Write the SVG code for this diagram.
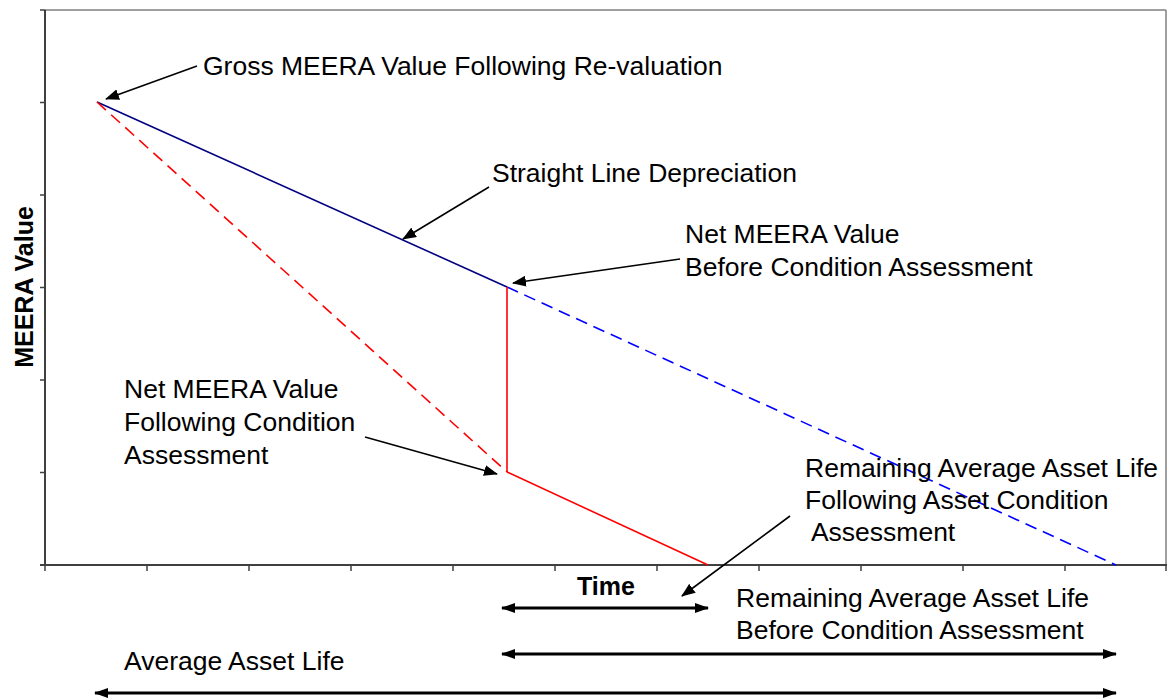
<svg xmlns="http://www.w3.org/2000/svg" width="1173" height="699" viewBox="0 0 1173 699">
  <style>
    text { font-family: "Liberation Sans", Arial, sans-serif; font-size: 26.5px; fill: #000; }
    .bold { font-weight: bold; font-size: 25px; }
    .tick { stroke: #404040; stroke-width: 1.5; }
    .callout { stroke: #000; stroke-width: 1.6; fill: none; marker-end: url(#ah); }
    .span { stroke: #000; stroke-width: 2.8; fill: none; marker-start: url(#ah2); marker-end: url(#ah2); }
  </style>
  <defs>
    <marker id="ah" viewBox="0 0 14 11" markerWidth="14" markerHeight="11" refX="13" refY="5.5" orient="auto" markerUnits="userSpaceOnUse">
      <path d="M0,0 L14,5.5 L0,11 z" fill="#000"/>
    </marker>
    <marker id="ah2" viewBox="0 0 14 10" markerWidth="14" markerHeight="10" refX="13" refY="5" orient="auto-start-reverse" markerUnits="userSpaceOnUse">
      <path d="M0,0 L14,5 L0,10 z" fill="#000"/>
    </marker>
  </defs>
  <rect width="1173" height="699" fill="#fff"/>

  <g id="plot-frame">
    <line x1="45" y1="10" x2="1166" y2="10" stroke="#808080" stroke-width="1.5"/>
    <line x1="1166" y1="10" x2="1166" y2="565" stroke="#808080" stroke-width="1.5"/>
    <line x1="45" y1="10" x2="45" y2="566" stroke="#000" stroke-width="1.5"/>
    <line x1="40" y1="565" x2="1167" y2="565" stroke="#404040" stroke-width="2"/>
    <g id="y-ticks">
      <line class="tick" x1="40" y1="10" x2="45" y2="10"/>
      <line class="tick" x1="40" y1="102.5" x2="45" y2="102.5"/>
      <line class="tick" x1="40" y1="195" x2="45" y2="195"/>
      <line class="tick" x1="40" y1="287.5" x2="45" y2="287.5"/>
      <line class="tick" x1="40" y1="380" x2="45" y2="380"/>
      <line class="tick" x1="40" y1="472.5" x2="45" y2="472.5"/>
    </g>
    <g id="x-ticks">
      <line class="tick" x1="45" y1="565" x2="45" y2="571"/>
      <line class="tick" x1="147" y1="565" x2="147" y2="571"/>
      <line class="tick" x1="249" y1="565" x2="249" y2="571"/>
      <line class="tick" x1="351" y1="565" x2="351" y2="571"/>
      <line class="tick" x1="453" y1="565" x2="453" y2="571"/>
      <line class="tick" x1="555" y1="565" x2="555" y2="571"/>
      <line class="tick" x1="657" y1="565" x2="657" y2="571"/>
      <line class="tick" x1="759" y1="565" x2="759" y2="571"/>
      <line class="tick" x1="861" y1="565" x2="861" y2="571"/>
      <line class="tick" x1="963" y1="565" x2="963" y2="571"/>
      <line class="tick" x1="1065" y1="565" x2="1065" y2="571"/>
      <line class="tick" x1="1166" y1="565" x2="1166" y2="571"/>
    </g>
  </g>

  <g id="series">
    <line id="straight-line" x1="97" y1="102" x2="507" y2="287" stroke="#000080" stroke-width="1.6"/>
    <line id="straight-line-ext" x1="507" y1="287" x2="1116" y2="565" stroke="#0000ff" stroke-width="1.6" stroke-dasharray="12,7"/>
    <line id="condition-ext" x1="97" y1="102" x2="507" y2="472" stroke="#ff0000" stroke-width="1.6" stroke-dasharray="12,7"/>
    <line id="condition-drop" x1="507" y1="287" x2="507" y2="472" stroke="#ff0000" stroke-width="1.6"/>
    <line id="condition-line" x1="507" y1="472" x2="708" y2="565" stroke="#ff0000" stroke-width="1.6"/>
  </g>

  <g id="label-gross"><text x="203" y="75">Gross MEERA Value Following Re-valuation</text></g>
  <g id="label-straight"><text x="492" y="182">Straight Line Depreciation</text></g>
  <g id="label-net-before"><text x="685" y="243">Net MEERA Value</text><text x="685" y="276">Before Condition Assessment</text></g>
  <g id="label-net-following"><text x="124" y="398">Net MEERA Value</text><text x="124" y="431">Following Condition</text><text x="124" y="464">Assessment</text></g>
  <g id="label-remaining-following"><text x="805" y="477">Remaining Average Asset Life</text><text x="805" y="509">Following Asset Condition</text><text x="805" y="541" xml:space="preserve"> Assessment</text></g>
  <g id="label-time"><text class="bold" x="577" y="595">Time</text></g>
  <g id="label-remaining-before"><text x="736" y="607">Remaining Average Asset Life</text><text x="736" y="639">Before Condition Assessment</text></g>
  <g id="label-average"><text x="124" y="670">Average Asset Life</text></g>
  <g id="label-yaxis"><text class="bold" transform="translate(33,287) rotate(-90)" text-anchor="middle">MEERA Value</text></g>

  <g id="connectors">
    <line class="callout" x1="197" y1="66" x2="106" y2="99"/>
    <line class="callout" x1="489" y1="187" x2="403" y2="239"/>
    <line class="callout" x1="680" y1="259" x2="513" y2="283"/>
    <line class="callout" x1="365" y1="437" x2="497" y2="474"/>
    <line class="callout" x1="790" y1="516" x2="682" y2="596"/>
    <line class="span" x1="502" y1="608" x2="708" y2="608"/>
    <line class="span" x1="502" y1="654" x2="1116" y2="654"/>
    <line class="span" x1="95" y1="693" x2="1116" y2="693"/>
  </g>
</svg>
